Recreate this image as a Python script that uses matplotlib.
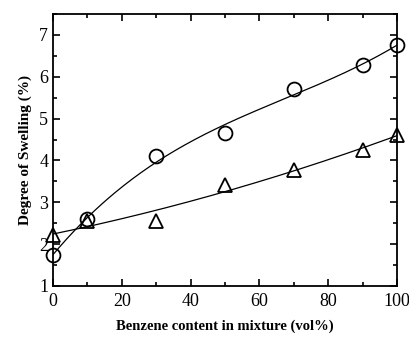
import numpy as np
import matplotlib
matplotlib.use("Agg")
import matplotlib.pyplot as plt
from matplotlib.ticker import MultipleLocator

# benzene content (vol%)
benzene = [0, 10, 30, 50, 70, 90, 100]
swelling_circle = [1.75, 2.6, 4.1, 4.65, 5.7, 6.28, 6.75]
swelling_triangle = [2.22, 2.55, 2.55, 3.42, 3.78, 4.25, 4.6]

plt.rcParams["font.family"] = ["Liberation Serif", "DejaVu Serif"]

fig = plt.figure(figsize=(4.09, 3.37), dpi=100)
ax = fig.add_axes([53 / 409, 1 - 286 / 337, 344 / 409, 272 / 337])

xs = np.linspace(0, 100, 200)
fit_c = np.polyfit(benzene, swelling_circle, 3)
fit_t = np.polyfit(benzene, swelling_triangle, 2)
ax.plot(xs, np.polyval(fit_c, xs), color="black", lw=0.9)
ax.plot(xs, np.polyval(fit_t, xs), color="black", lw=0.9)

ax.plot(benzene, swelling_circle, "o", ms=10, mfc="none", mec="black", mew=1.3, clip_on=False)
ax.plot(benzene, swelling_triangle, "^", ms=10, mfc="none", mec="black", mew=1.3, clip_on=False)

ax.set_xlim(0, 100)
ax.set_ylim(1, 7.5)
ax.xaxis.set_major_locator(MultipleLocator(20))
ax.xaxis.set_minor_locator(MultipleLocator(10))
ax.yaxis.set_major_locator(MultipleLocator(1))
ax.yaxis.set_minor_locator(MultipleLocator(0.5))
ax.tick_params(which="both", direction="in", top=True, right=True, labelsize=13, width=1.2)
ax.tick_params(which="major", length=5)
ax.tick_params(which="minor", length=3)
ax.tick_params(axis="x", pad=5)
for s in ax.spines.values():
    s.set_linewidth(1.3)

ax.set_xlabel("Benzene content in mixture (vol%)", fontsize=10.5, fontweight="bold", labelpad=7)
ax.set_ylabel("Degree of Swelling (%)", fontsize=11, fontweight="bold", labelpad=5)

fig.savefig("out.png", dpi=100)
